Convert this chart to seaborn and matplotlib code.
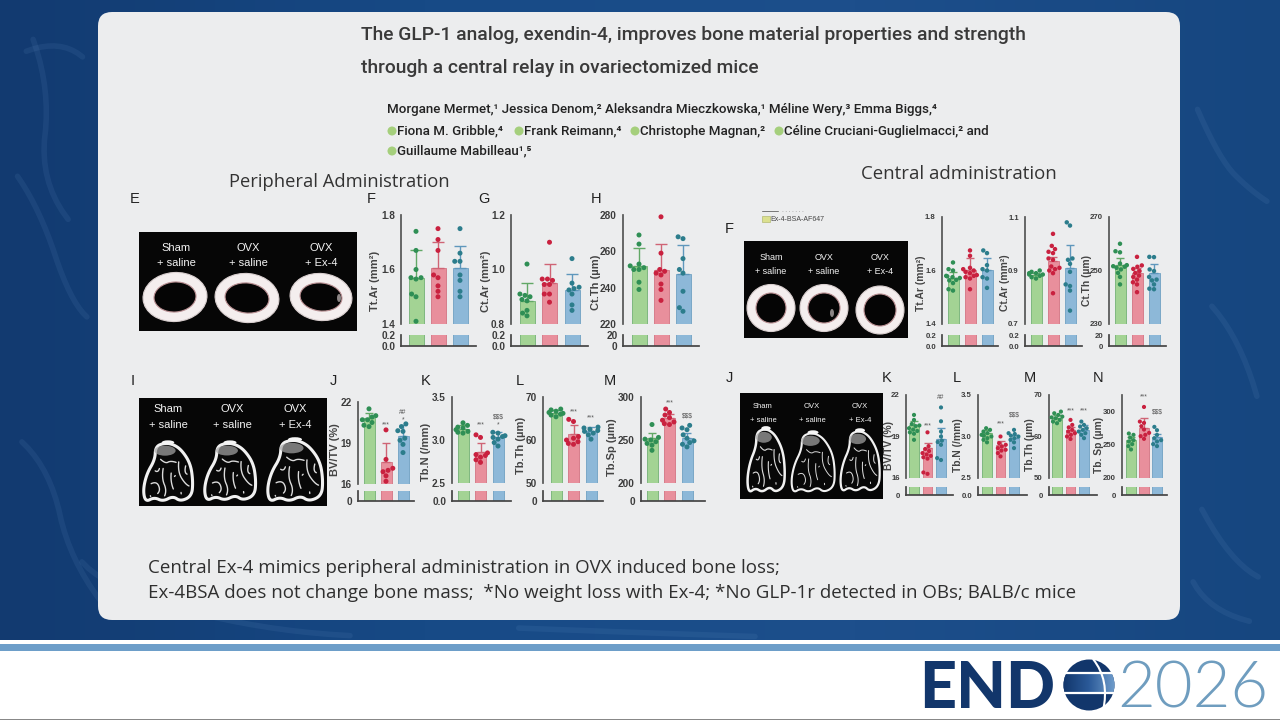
"""Conference slide: exendin-4 bone panels (peripheral vs central administration)."""
import warnings

import matplotlib
matplotlib.use("Agg")
import matplotlib.pyplot as plt
import numpy as np
import pandas as pd
import seaborn as sns
from matplotlib.patches import Circle, Ellipse, FancyBboxPatch, PathPatch, Polygon, Rectangle
from matplotlib.path import Path

warnings.filterwarnings("ignore")

W, H = 1280, 720
GROUPS = ["Sham", "OVX", "OVX+Ex-4"]
FILLS = ["#a3d394", "#e88f9c", "#8db8d8"]
EDGES = ["#62a866", "#cf6475", "#5f97bc"]
DOTS = ["#2f8f55", "#c9213f", "#2c7d8c"]

TITLE = ["The GLP-1 analog, exendin-4, improves bone material properties and strength",
         "through a central relay in ovariectomized mice"]
AUTHORS = ["Morgane Mermet,¹ Jessica Denom,² Aleksandra Mieczkowska,¹ Méline Wery,³ Emma Biggs,⁴",
           "Fiona M. Gribble,⁴ ", "Frank Reimann,⁴ ", "Christophe Magnan,² ",
           "Céline Cruciani-Guglielmacci,² and", "Guillaume Mabilleau¹,⁵"]
FOOTER = ["Central Ex-4 mimics peripheral administration in OVX induced bone loss;",
          "Ex-4BSA does not change bone mass;  *No weight loss with Ex-4; *No GLP-1r detected in OBs; BALB/c mice"]

# peripheral administration, top row
p_ttar_mean = [1.57, 1.605, 1.605]
p_ttar_top = [1.67, 1.70, 1.685]
p_ttar_pts = [[1.74, 1.67, 1.60, 1.57, 1.57, 1.565, 1.51, 1.50, 1.41],
              [1.75, 1.71, 1.67, 1.58, 1.57, 1.54, 1.52, 1.50],
              [1.75, 1.66, 1.63, 1.63, 1.58, 1.56, 1.52, 1.50]]
p_ctar_mean = [0.885, 0.95, 0.925]
p_ctar_top = [0.95, 1.02, 0.985]
p_ctar_pts = [[1.02, 0.91, 0.905, 0.90, 0.89, 0.885, 0.85, 0.84, 0.83],
              [1.10, 0.965, 0.965, 0.96, 0.945, 0.945, 0.91, 0.91, 0.88],
              [1.04, 0.95, 0.935, 0.93, 0.925, 0.91, 0.87, 0.85]]
p_ctth_mean = [252, 249.5, 247.5]
p_ctth_top = [262, 264, 263.5]
p_ctth_pts = [[269, 264, 253, 252, 251, 250, 250, 243, 239],
              [279, 259, 250, 249, 248, 247, 242, 239, 233],
              [268, 267, 256, 250, 248, 238, 229, 227]]

# peripheral administration, bottom row
p_bvtv_mean = [20.8, 17.6, 19.5]
p_bvtv_top = [21.2, 19.0, 20.3]
p_bvtv_pts = [[21.5, 21.0, 20.9, 20.7, 20.7, 20.5, 20.3, 20.2],
              [19.96, 17.8, 17.15, 17.0, 16.9, 16.6, 16.2],
              [20.4, 20.2, 19.9, 19.85, 19.35, 19.2, 18.9, 18.3]]
p_tbn_mean = [3.125, 2.86, 3.03]
p_tbn_top = [3.17, 2.97, 3.09]
p_tbn_pts = [[3.2, 3.17, 3.15, 3.14, 3.12, 3.1, 3.09, 3.08],
             [3.06, 3.03, 2.85, 2.83, 2.82, 2.8, 2.77, 2.74],
             [3.09, 3.08, 3.05, 3.04, 3.03, 3.01, 2.97, 2.93]]
p_tbth_mean = [66.2, 61.3, 62.1]
p_tbth_top = [66.9, 63.5, 63.0]
p_tbth_pts = [[67.2, 67.0, 66.7, 66.4, 66.2, 66.0, 65.8, 65.4],
              [64.8, 64.3, 60.8, 60.4, 60.0, 59.6, 59.2, 59.0],
              [63.0, 62.8, 62.5, 62.2, 62.0, 61.6, 61.2, 60.2]]
p_tbsp_mean = [252, 275.6, 252]
p_tbsp_top = [258, 280, 258]
p_tbsp_pts = [[268, 253, 251, 250, 248, 246, 244, 238],
              [286, 282, 279, 276, 273, 271, 269, 268],
              [267, 264, 262, 256, 252, 249, 247, 245, 242]]

# central administration, top row
c_ttar_mean = [1.572, 1.603, 1.603]
c_ttar_top = [1.595, 1.647, 1.647]
c_ttar_pts = [[1.63, 1.605, 1.60, 1.58, 1.578, 1.575, 1.572, 1.565, 1.563, 1.553, 1.53, 1.525],
              [1.675, 1.655, 1.61, 1.605, 1.60, 1.595, 1.59, 1.583, 1.58, 1.575, 1.57, 1.53],
              [1.675, 1.665, 1.62, 1.605, 1.60, 1.575, 1.57, 1.535]]
c_ctar_mean = [0.885, 0.937, 0.91]
c_ctar_top = [0.89, 0.95, 0.995]
c_ctar_pts = [[0.90, 0.895, 0.89, 0.89, 0.885, 0.885, 0.88, 0.875, 0.87],
              [1.037, 0.992, 0.98, 0.97, 0.965, 0.945, 0.94, 0.915, 0.91, 0.905, 0.90, 0.89, 0.815],
              [1.08, 1.068, 0.945, 0.94, 0.925, 0.895, 0.848, 0.842, 0.825, 0.75]]
c_ctth_mean = [252.2, 249.1, 249.1]
c_ctth_top = [254.7, 251, 252.6]
c_ctth_pts = [[260, 257.2, 256.8, 252.6, 252, 251.6, 251.4, 251, 250.4, 249.1, 247.6, 244.8],
              [255.1, 251.9, 251.4, 250.6, 249.8, 249.1, 248.1, 247.6, 246.6, 245.6, 244.8, 241.9],
              [255.1, 255, 250.4, 249.8, 247.6, 246.6, 246.3, 244.8, 243.2, 243]]

# central administration, bottom row
c_bvtv_mean = [19.8, 18.2, 18.8]
c_bvtv_top = [20.1, 18.5, 19.6]
c_bvtv_pts = [[20.56, 20.2, 19.9, 19.8, 19.75, 19.6, 19.5, 19.4, 19.3, 19.2, 18.76],
              [19.3, 18.3, 18.1, 17.95, 17.8, 17.7, 17.6, 17.5, 17.4, 16.4, 16.3],
              [21.1, 20.1, 19.36, 19.0, 18.7, 18.6, 18.4, 17.44, 17.3]]
c_tbn_mean = [3.04, 2.9, 2.98]
c_tbn_top = [3.08, 2.94, 3.02]
c_tbn_pts = [[3.1, 3.08, 3.06, 3.04, 3.02, 3.01, 3.0, 2.98, 2.96, 2.93],
             [3.0, 2.92, 2.9, 2.88, 2.86, 2.84, 2.83, 2.8, 2.76],
             [3.08, 3.04, 3.03, 3.01, 3.0, 2.98, 2.96, 2.93, 2.86]]
c_tbth_mean = [64.4, 61.6, 61.6]
c_tbth_top = [65.2, 62.4, 62.8]
c_tbth_pts = [[66.0, 65.6, 65.2, 64.8, 64.6, 64.4, 64.0, 63.6, 63.2],
              [64.0, 62.8, 62.2, 61.6, 61.2, 60.8, 60.4, 60.0, 59.4],
              [63.6, 62.8, 62.4, 62.0, 61.6, 61.2, 60.8, 60.4, 59.6]]
c_tbsp_mean = [257, 276, 261]
c_tbsp_top = [262, 290, 267]
c_tbsp_pts = [[267, 265, 261, 257, 255, 251, 248, 243],
              [307, 285, 283, 278, 273, 268, 265, 263, 259],
              [277, 272, 265, 260, 257, 255, 251, 248]]


def px_axes(fig, left, right, top, bottom, **kw):
    return fig.add_axes([left / W, 1 - bottom / H, (right - left) / W, (bottom - top) / H], **kw)


def long_form(pts):
    return pd.DataFrame({"group": [g for g, vals in zip(GROUPS, pts) for _ in vals],
                         "value": [v for vals in pts for v in vals]})


def broken_panel(fig, canvas, geo, mean, err_top, pts, ylab, ylim, yticks, ylabels, low_top, low_labels,
                 minor=(), stats=(), fs=7.2, dot=3.6, lab_fs=8):
    left, right, c0, step, bw, y_top, y_brk, y_low, y_zero = geo
    xlim = ((left - c0) / step, (right - c0) / step)
    width = bw / step
    up = px_axes(fig, left, right, y_top, y_brk)
    low = px_axes(fig, left, right, y_low, y_zero)
    for ax in (up, low):
        ax.patch.set_alpha(0)
        sns.barplot(x=GROUPS, y=mean, hue=GROUPS, palette=FILLS, saturation=1, width=width,
                    legend=False, ax=ax, edgecolor="none")
        for patch, ec in zip(ax.patches, EDGES):
            patch.set_edgecolor(ec)
            patch.set_linewidth(0.5)
        ax.set_xlim(*xlim)
        ax.set_xlabel("")
        ax.set_ylabel("")
    up.set_ylim(*ylim)
    for i in range(3):
        up.errorbar([i], [mean[i]], yerr=[[0], [err_top[i] - mean[i]]], fmt="none", ecolor=EDGES[i],
                    elinewidth=1, capsize=bw * 0.28, capthick=1)
    n_before = len(up.collections)
    sns.swarmplot(data=long_form(pts), x="group", y="value", hue="group", order=GROUPS, hue_order=GROUPS,
                  palette=DOTS, size=dot, legend=False, ax=up, zorder=5)
    for coll in up.collections[n_before:]:
        coll.set_clip_on(False)
    up.set_xlim(*xlim)
    up.set_ylim(*ylim)
    up.set_xlabel("")
    up.set_ylabel("")
    up.set_xticks([])
    up.set_yticks(yticks)
    up.set_yticklabels(ylabels, fontsize=fs, fontweight="bold", color="#3c3c3c")
    up.set_yticks(list(minor), minor=True)
    up.tick_params(axis="y", which="both", length=4, width=1, color="#444444", pad=0.5)
    for s in ("top", "right", "bottom"):
        up.spines[s].set_visible(False)
    up.spines["left"].set_color("#555555")
    low.set_ylim(0, low_top)
    low.set_xticks(range(3))
    low.set_xticklabels([])
    low.set_yticks([0, low_top])
    low.set_yticklabels(low_labels, fontsize=fs, fontweight="bold", color="#3c3c3c")
    low.tick_params(axis="both", length=3.5, width=1, color="#444444", pad=0.5)
    for s in ("top", "right"):
        low.spines[s].set_visible(False)
    low.spines["left"].set_color("#444444")
    low.spines["bottom"].set_color("#444444")
    for i, yv, txt in stats:
        up.text(i, yv, txt, ha="center", va="center", fontsize=4.8, color="#555555", clip_on=False)
    canvas.text(ylab[1], ylab[2], ylab[0], rotation=90, ha="center", va="center", fontsize=lab_fs,
                fontweight="bold", color="#444444", zorder=3)


def chaikin(points, rounds=3, closed=True):
    p = np.asarray(points, float)
    for _ in range(rounds):
        q = np.roll(p, -1, axis=0) if closed else p[1:]
        a = p if closed else p[:-1]
        p = np.column_stack([0.75 * a + 0.25 * q, 0.25 * a + 0.75 * q]).reshape(-1, 2)
    return p


def ring(ax, cx, cy, rx, ry, irx, iry, angle=0, lesion=None):
    ax.add_patch(Ellipse((cx, cy), 2 * rx, 2 * ry, angle=angle, fc="#f4eeee", ec="#d9cfcf", lw=0.8, zorder=3))
    ax.add_patch(Ellipse((cx, cy), 2 * irx, 2 * iry, angle=angle, fc="#050505", ec="#b98f92", lw=0.8, zorder=3))
    if lesion:
        ax.add_patch(Ellipse(lesion, 4, 8, fc="#8c8585", ec="none", zorder=3))


BONE_OUT = [(-0.15, 0.0), (-0.5, 0.06), (-0.52, 0.28), (-0.85, 0.52), (-1.0, 0.8), (-0.9, 1.0), (-0.55, 0.92),
            (-0.2, 0.99), (0.2, 0.9), (0.5, 0.99), (0.95, 0.9), (1.0, 0.65), (0.9, 0.35), (0.55, 0.12), (0.2, 0.02)]
BONE_STRUTS = [
    [(-0.45, 0.22), (-0.1, 0.35), (0.1, 0.3), (0.5, 0.35)], [(0.45, 0.18), (0.4, 0.5), (0.7, 0.7), (0.95, 0.75)],
    [(-0.15, 0.3), (-0.25, 0.6), (-0.05, 0.8), (-0.2, 0.97)], [(0.15, 0.4), (0.1, 0.65), (0.3, 0.88)],
    [(-0.85, 0.72), (-0.45, 0.65), (-0.3, 0.8), (-0.5, 0.9)], [(0.4, 0.5), (0.15, 0.62)],
    [(0.75, 0.3), (0.65, 0.5), (0.85, 0.55)], [(-0.6, 0.45), (-0.4, 0.5), (-0.3, 0.38)],
    [(0.5, 0.75), (0.55, 0.95)], [(-0.75, 0.85), (-0.65, 0.95)],
]


def bone(ax, cx, top, half_w, height, lw=2.2, struts=BONE_STRUTS):
    to_px = lambda pts: [(cx + x * half_w, top + y * height) for x, y in pts]
    ax.add_patch(Polygon(chaikin(to_px(BONE_OUT)), closed=True, fc="#080808", ec="#f1f1f1", lw=lw, zorder=3))
    ax.add_patch(Ellipse((cx - 0.12 * half_w, top + 0.13 * height), 0.85 * half_w, 0.17 * height, fc="#a8a8a8",
                         ec="none", alpha=0.7, zorder=3))
    ax.add_patch(Ellipse((cx, top - 0.01 * height), 0.5 * half_w, 0.07 * height, fc="#f5f5f5", ec="none", zorder=4))
    for s in struts:
        ax.plot(*chaikin(to_px(s), closed=False).T, color="#dcdcdc", lw=lw * 0.45, zorder=4)


def image_labels(ax, xs, y1, y2, fs):
    for x, a, b in zip(xs, ["Sham", "OVX", "OVX"], ["+ saline", "+ saline", "+ Ex-4"]):
        ax.text(x, y1, a, color="#f4f4f4", ha="center", va="center", fontsize=fs, zorder=5)
        ax.text(x, y2, b, color="#f4f4f4", ha="center", va="center", fontsize=fs, zorder=5)


def draw_background(ax):
    grad = np.linspace(0, 1, 256)[None, :]
    ax.imshow(grad, extent=[0, W, H, 0], cmap=matplotlib.colors.LinearSegmentedColormap.from_list(
        "navy", ["#123a70", "#174a86", "#1d4f8c", "#16467f"]), aspect="auto", zorder=0)
    branches = [[(0, 150), (40, 210), (70, 300), (100, 330)], [(20, 0), (50, 90), (40, 180), (90, 250)],
                [(0, 420), (50, 470), (70, 560), (130, 640)], [(60, 540), (110, 590), (260, 630), (420, 640)],
                [(1180, 70), (1220, 160), (1250, 190), (1280, 210)], [(1180, 470), (1230, 560), (1280, 590)],
                [(1180, 560), (1210, 610), (1280, 630)], [(440, 625), (620, 632), (860, 640)],
                [(1190, 280), (1240, 340), (1270, 440)], [(0, 60), (60, 40), (100, 70)]]
    for b in branches:
        ax.plot(*chaikin(b, closed=False).T, color="#7aa6d6", alpha=0.1, lw=4, zorder=1,
                solid_capstyle="round")


def draw_logo(ax):
    ax.add_patch(Rectangle((0, 640), W, 80, fc="white", ec="none", zorder=1))
    ax.add_patch(Rectangle((0, 644), W, 6.5, fc="#6d9ec9", ec="none", zorder=2))
    ax.add_patch(Rectangle((0, 718.5), W, 1.5, fc="#888888", ec="none", zorder=2))
    ax.text(919, 708, "END", family=["Lato", "DejaVu Sans"], weight="black", fontsize=46.5, color="#12366b",
            ha="left", va="baseline", zorder=3)
    ax.text(1117, 708, "2026", family=["Lato", "DejaVu Sans"], weight=300, fontsize=47, color="#6f9dbf",
            ha="left", va="baseline", zorder=3)
    ax.add_patch(Circle((1089, 685), 25.5, fc="#12366b", ec="none", zorder=3))
    glow = np.linspace(0, 1, 64)[None, :]
    im = ax.imshow(glow, extent=[1063, 1115, 693, 673], aspect="auto", zorder=3.1,
                   cmap=matplotlib.colors.LinearSegmentedColormap.from_list("g", ["#12366b", "#2b5a99", "#6f9ccb"]))
    im.set_clip_path(Circle((1089, 685), 25.5, transform=ax.transData))
    for y in (673, 693):
        ax.plot([1063, 1115], [y, y], color="white", lw=1.6, zorder=4)
    ax.add_patch(PathPatch(Path([(1093, 659), (1110, 680), (1103, 711)], [Path.MOVETO, Path.CURVE3, Path.CURVE3]),
                           fc="none", ec="white", lw=1.5, zorder=4))


def main():
    sns.set_theme(style="white")
    plt.rcParams["font.family"] = ["Liberation Sans", "DejaVu Sans"]
    fig = plt.figure(figsize=(12.8, 7.2), dpi=100, facecolor="white")
    canvas = fig.add_axes([0, 0, 1, 1])
    canvas.axis("off")
    draw_background(canvas)
    canvas.add_patch(FancyBboxPatch((98, 12), 1082, 608, boxstyle="round,pad=0,rounding_size=14", fc="#ecedee",
                                    ec="none", zorder=2))
    draw_logo(canvas)

    # heading block
    head = ["Roboto", "DejaVu Sans"]
    canvas.text(361, 35, TITLE[0], family=head, fontsize=13.85, fontweight="medium", color="#3a3a3a", va="center", zorder=3)
    canvas.text(361, 68, TITLE[1], family=head, fontsize=13.85, fontweight="medium", color="#3a3a3a", va="center", zorder=3)
    body = ["Roboto", "DejaVu Sans"]
    canvas.text(387, 110, AUTHORS[0], family=body, fontsize=9.65, fontweight="medium", color="#222222", va="center", zorder=3)
    for x, txt in zip((397, 524, 640, 784), AUTHORS[1:5]):
        canvas.add_patch(Circle((x - 5, 131), 4.5, fc="#a5cf7c", ec="none", zorder=3))
        canvas.text(x, 131, txt, family=body, fontsize=9.65, fontweight="medium", color="#222222", va="center", zorder=3)
    canvas.add_patch(Circle((392, 151), 4.5, fc="#a5cf7c", ec="none", zorder=3))
    canvas.text(397, 151, AUTHORS[5], family=body, fontsize=9.65, fontweight="medium", color="#222222", va="center", zorder=3)

    section = ["Open Sans", "DejaVu Sans"]
    canvas.text(229, 182, "Peripheral Administration", family=section, fontsize=13.2, color="#333333", va="center", zorder=3)
    canvas.text(861, 174, "Central administration", family=section, fontsize=13.4, color="#333333", va="center", zorder=3)
    canvas.text(148, 568, FOOTER[0], family=section, fontsize=13.47, color="#2f2f2f", va="center", zorder=3)
    canvas.text(148, 593, FOOTER[1], family=section, fontsize=13.47, color="#2f2f2f", va="center", zorder=3)

    for x, y, letter in [(135, 199, "E"), (371, 199, "F"), (484, 199, "G"), (596, 199, "H"), (133, 381, "I"),
                         (333, 381, "J"), (426, 381, "K"), (520, 381, "L"), (610, 381, "M"), (729, 229, "F"),
                         (729, 378, "J"), (887, 378, "K"), (957, 378, "L"), (1030, 378, "M"), (1098, 378, "N")]:
        canvas.text(x, y, letter, fontsize=10.5, color="#222222", ha="center", va="center", zorder=3)

    # clipped legend line above central rings
    canvas.add_patch(Rectangle((762, 216), 8, 6, fc="#dbe08f", ec="#a8b060", lw=0.4, zorder=3))
    canvas.text(770, 219.5, "Ex-4-BSA-AF647", fontsize=5, color="#444444", va="center", zorder=3)
    canvas.plot([762, 778], [211, 211], color="#777777", lw=0.7, zorder=3)
    canvas.plot([782, 804], [211, 211], color="#aaaaaa", lw=0.6, ls=(0, (1, 3)), zorder=3)

    # micro-CT panels
    for x0, x1, y0, y1 in [(139, 357, 232, 331), (139, 327, 398, 506), (744, 908, 241, 338), (740, 883, 393, 499)]:
        canvas.add_patch(Rectangle((x0, y0), x1 - x0, y1 - y0, fc="#060606", ec="none", zorder=2.5))
    image_labels(canvas, (176, 248, 321), 248, 263, 8)
    image_labels(canvas, (168, 232, 295), 409, 425, 8)
    image_labels(canvas, (771, 824, 880), 257, 272, 6.5)
    image_labels(canvas, (763, 812, 860), 406, 420, 5.5)
    ring(canvas, 175, 297, 32, 24.5, 21, 15, angle=-4)
    ring(canvas, 247, 298, 32, 24.5, 22, 15, angle=6)
    ring(canvas, 321, 297, 31, 23.5, 21, 14, angle=6, lesion=(339, 298))
    ring(canvas, 771, 308, 24, 23.5, 15, 15)
    ring(canvas, 824, 308, 24, 23.5, 16, 15, lesion=(832, 313))
    ring(canvas, 880, 310, 24, 24, 16, 16)
    bone(canvas, 168, 443, 25, 59)
    bone(canvas, 230, 443, 26, 58)
    bone(canvas, 295, 440, 28, 62)
    bone(canvas, 766, 429, 19, 64, lw=1.8)
    bone(canvas, 813, 433, 22, 60, lw=1.5)
    bone(canvas, 860, 431, 20, 61, lw=1.6)

    # left, right, first bar, step, bar width, axis top, break, stub top, zero
    top_p = (215, 324, 335, 346)
    bot_p = (397, 483, 491, 501)
    top_c = (217, 324, 335, 346)
    bot_c = (395, 478, 487, 495)
    small = dict(fs=5.6, lab_fs=7.4)
    broken_panel(fig, canvas, (401, 476, 416, 22, 15, *top_p), p_ttar_mean, p_ttar_top, p_ttar_pts,
                 ("Tt.Ar (mm²)", 375, 281), (1.4, 1.8), [1.4, 1.6, 1.8], ["1.4", "1.6", "1.8"], 0.2, ["0.0", "0.2"])
    broken_panel(fig, canvas, (511, 588, 527, 22.5, 15, *top_p), p_ctar_mean, p_ctar_top, p_ctar_pts,
                 ("Ct.Ar (mm²)", 486, 281), (0.8, 1.2), [0.8, 1.0, 1.2], ["0.8", "1.0", "1.2"], 0.2, ["0.0", "0.2"])
    broken_panel(fig, canvas, (623, 699, 639, 22, 15, *top_p), p_ctth_mean, p_ctth_top, p_ctth_pts,
                 ("Ct.Th (µm)", 596, 282), (220, 280), [220, 240, 260, 280], ["220", "240", "260", "280"], 20, ["0", "20"])

    broken_panel(fig, canvas, (358, 414, 369, 17, 11, 402, 484, 491, 501), p_bvtv_mean, p_bvtv_top, p_bvtv_pts,
                 ("BV/TV (%)", 335, 450), (16, 22), [16, 19, 22], ["16", "19", "22"], 2, ["0", ""],
                 stats=[(1, 20.3, "***"), (2, 21.2, "##"), (2, 20.7, "*")])
    broken_panel(fig, canvas, (452, 511, 463, 17.5, 11, *bot_p), p_tbn_mean, p_tbn_top, p_tbn_pts,
                 ("Tb.N (/mm)", 426, 452), (2.5, 3.5), [2.5, 3.0, 3.5], ["2.5", "3.0", "3.5"], 0.5, ["0.0", ""],
                 stats=[(1, 3.17, "***"), (2, 3.27, "$$$"), (2, 3.18, "*")])
    broken_panel(fig, canvas, (543, 603, 556, 17.5, 11, *bot_p), p_tbth_mean, p_tbth_top, p_tbth_pts,
                 ("Tb.Th (µm)", 521, 445), (50, 70), [50, 60, 70], ["50", "60", "70"], 5, ["0", ""],
                 stats=[(1, 66.6, "***"), (2, 65.2, "***")])
    broken_panel(fig, canvas, (641, 705, 652, 17.5, 11, *bot_p), p_tbsp_mean, p_tbsp_top, p_tbsp_pts,
                 ("Tb.Sp (µm)", 612, 447), (200, 300), [200, 250, 300], ["200", "250", "300"], 25, ["0", ""],
                 minor=[225, 275], stats=[(1, 293, "***"), (2, 278, "$$$")])

    broken_panel(fig, canvas, (942, 998, 953, 17, 11, *top_c), c_ttar_mean, c_ttar_top, c_ttar_pts,
                 ("Tt.Ar (mm²)", 921, 283), (1.4, 1.8), [1.4, 1.6, 1.8], ["1.4", "1.6", "1.8"], 0.2, ["0.0", "0.2"], dot=3.2, **small)
    broken_panel(fig, canvas, (1025, 1082, 1036, 17, 11, *top_c), c_ctar_mean, c_ctar_top, c_ctar_pts,
                 ("Ct.Ar (mm²)", 1005, 283), (0.7, 1.1), [0.7, 0.9, 1.1], ["0.7", "0.9", "1.1"], 0.2, ["0.0", "0.2"], dot=3.2, **small)
    broken_panel(fig, canvas, (1109, 1166, 1120, 17, 11, *top_c), c_ctth_mean, c_ctth_top, c_ctth_pts,
                 ("Ct.Th (µm)", 1087, 281), (230, 270), [230, 250, 270], ["230", "250", "270"], 20, ["0", "20"], dot=3.2, **small)

    broken_panel(fig, canvas, (906, 953, 914, 13.5, 9.5, *bot_c), c_bvtv_mean, c_bvtv_top, c_bvtv_pts,
                 ("BV/TV (%)", 889, 445), (16, 22), [16, 19, 22], ["16", "19", "22"], 2, ["0", ""],
                 stats=[(1, 19.75, "***"), (2, 21.8, "##")], dot=3.0, **small)
    broken_panel(fig, canvas, (978, 1027, 987, 13.5, 9.5, *bot_c), c_tbn_mean, c_tbn_top, c_tbn_pts,
                 ("Tb.N (/mm)", 958, 445), (2.5, 3.5), [2.5, 3.0, 3.5], ["2.5", "3.0", "3.5"], 0.5, ["0.0", ""],
                 stats=[(1, 3.15, "***"), (2, 3.26, "$$$")], dot=3.0, **small)
    broken_panel(fig, canvas, (1049, 1097, 1057, 13.5, 9.5, *bot_c), c_tbth_mean, c_tbth_top, c_tbth_pts,
                 ("Tb.Th (µm)", 1030, 445), (50, 70), [50, 60, 70], ["50", "60", "70"], 5, ["0", ""],
                 stats=[(1, 66.2, "***"), (2, 66.2, "***")], dot=3.0, **small)
    broken_panel(fig, canvas, (1122, 1167, 1131, 13, 9.5, *bot_c), c_tbsp_mean, c_tbsp_top, c_tbsp_pts,
                 ("Tb. Sp (µm)", 1099, 445), (200, 325), [200, 250, 300], ["200", "250", "300"], 25, ["0", ""],
                 minor=[225, 275, 325], stats=[(1, 322, "***"), (2, 299, "$$$")], dot=3.0, **small)

    canvas.set_xlim(0, W)
    canvas.set_ylim(H, 0)
    fig.savefig("out.png", dpi=100, facecolor="white")
    plt.close(fig)


if __name__ == "__main__":
    main()
